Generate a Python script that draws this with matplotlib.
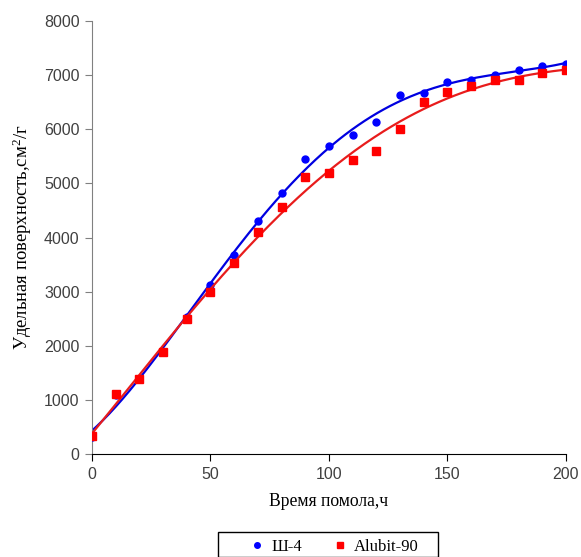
import numpy as np
import matplotlib.pyplot as plt
from matplotlib.lines import Line2D
from matplotlib.patches import Rectangle

plt.rcParams["mathtext.fontset"] = "custom"
plt.rcParams["mathtext.rm"] = "Liberation Serif"
plt.rcParams["mathtext.default"] = "rm"

# время помола, ч
t = np.array([0, 10, 20, 30, 40, 50, 60, 70, 80, 90, 100,
              110, 120, 130, 140, 150, 160, 170, 180, 190, 200])
# удельная поверхность, см2/г
sh4 = np.array([320, 1085, 1395, 1880, 2530, 3120, 3670, 4300, 4830, 5445, 5690,
                5895, 6125, 6640, 6670, 6865, 6915, 7000, 7100, 7160, 7205])
alubit = np.array([333, 1105, 1390, 1880, 2495, 2990, 3530, 4105, 4570, 5125, 5200,
                   5435, 5600, 6005, 6500, 6690, 6790, 6905, 6905, 7045, 7090])

labels = ["Ш-4", "Alubit-90"]
serif = ["Liberation Serif", "DejaVu Serif"]
sans = ["Liberation Sans", "DejaVu Sans"]

fig = plt.figure(figsize=(5.81, 5.57), dpi=100)
ax = fig.add_axes([0.1583, 0.1849, 0.8158, 0.7774])

# полиномиальные линии тренда
tt = np.linspace(0, 200, 300)
p_sh = np.polyfit(t, sh4, 5)
p_al = np.polyfit(t, alubit, 4)

ax.plot(tt, np.polyval(p_sh, tt), color="#0000e0", lw=1.6, zorder=2)
ax.plot(t, sh4, "o", color="#0000ff", ms=5, zorder=3)
ax.plot(tt, np.polyval(p_al, tt), color="#e81c1c", lw=1.6, zorder=4)
ax.plot(t, alubit, "s", color="#ff0000", ms=5.2, zorder=5)

ax.set_xlim(0, 200)
ax.set_ylim(0, 8000)
ax.set_xticks([0, 50, 100, 150, 200])
ax.set_yticks(range(0, 8001, 1000))

for s in ["top", "right"]:
    ax.spines[s].set_visible(False)
ax.spines["left"].set_color("#808080")
ax.spines["bottom"].set_color("black")
ax.tick_params(axis="y", direction="out", length=5, colors="#808080", labelcolor="#404040", pad=4)
ax.tick_params(axis="x", direction="out", length=5, colors="black", labelcolor="#404040", pad=4)
for lab in ax.get_xticklabels() + ax.get_yticklabels():
    lab.set_family(sans)
    lab.set_fontsize(11.5)

ax.set_xlabel("Время помола,ч", family=serif, fontsize=12.7, labelpad=8)
ax.set_ylabel("Удельная поверхность,см$^2$/г", family=serif, fontsize=13.4, labelpad=7)

handles = [Line2D([], [], ls="none", marker="o", color="#0000ff", ms=4),
           Line2D([], [], ls="none", marker="s", color="#ff0000", ms=4)]
fig.legend(handles, labels, loc="upper left", bbox_to_anchor=(248 / 581, 1 - 539 / 557),
           ncol=2, frameon=False, prop={"family": serif, "size": 12},
           handletextpad=0.3, columnspacing=1.7, borderpad=0, borderaxespad=0,
           handlelength=1.1)
fig.patches.append(Rectangle((218 / 581, 0), 220 / 581, 1 - 532 / 557,
                             transform=fig.transFigure, fill=False,
                             edgecolor="black", lw=1.0))

fig.savefig("out.png", dpi=100)
